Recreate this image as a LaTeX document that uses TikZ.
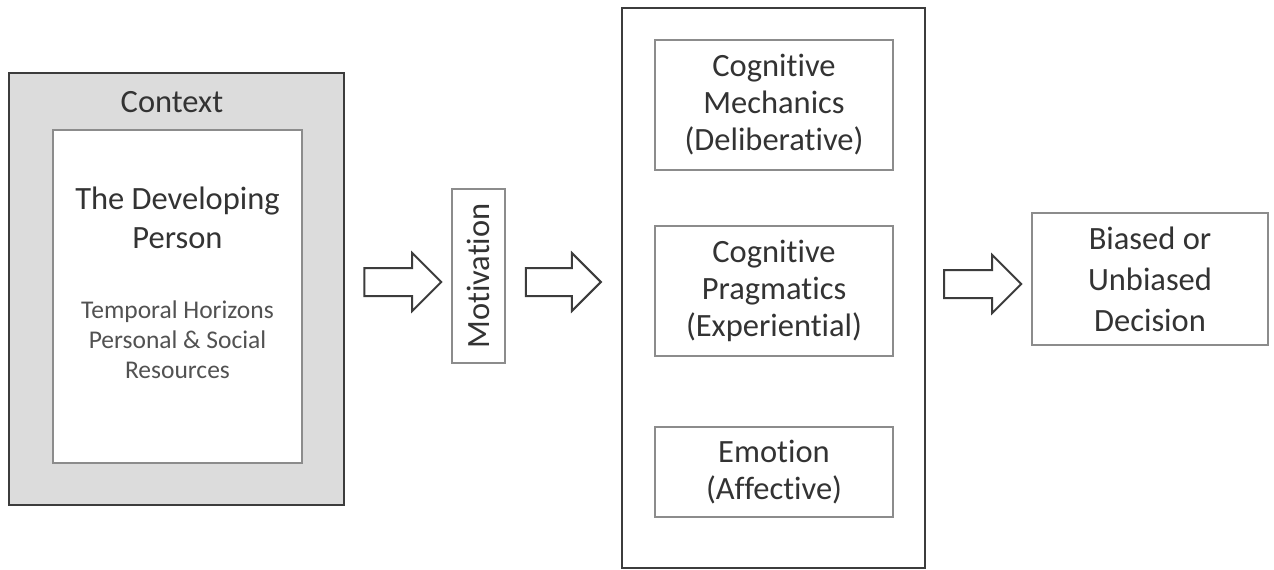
\documentclass[tikz,border=0pt]{standalone}
\usepackage{fontspec}
\setmainfont{Carlito}[Ligatures=NoCommon]
\usetikzlibrary{calc}

\definecolor{frame}{HTML}{3C3C3C}
\definecolor{thin}{HTML}{8C8C8C}
\definecolor{txt}{HTML}{333333}
\definecolor{ctxfill}{HTML}{DCDCDC}

\newcommand\blockarrow[2]{%
  \draw[blockline] let \p1=(#1), \p2=(#2) in
    (\x1,\y1-14pt) -- (\x2-29pt,\y1-14pt) -- (\x2-29pt,\y1-29pt) -- (\x2,\y1)
    -- (\x2-29pt,\y1+29pt) -- (\x2-29pt,\y1+14pt) -- (\x1,\y1+14pt) -- cycle;}

\begin{document}
\begin{tikzpicture}[x=1pt,y=-1pt,
    outerbox/.style={draw=frame,line width=2.5pt,rectangle,inner sep=0pt},
    innerbox/.style={draw=thin,line width=1.6pt,rectangle,inner sep=0pt,fill=white},
    blockline/.style={draw=frame,line width=2pt,fill=white,line join=miter},
    lbl/.style={text=txt,align=center,font=\fontsize{32.5}{37}\selectfont}]
        \useasboundingbox (0,0) rectangle (1274,570);

        % context and person
        \node[outerbox,fill=ctxfill,minimum width=335pt,minimum height=432pt] (ctx) at (176.5,289) {};
        \node[innerbox,minimum width=249pt,minimum height=333pt] (person) at (177.5,296.5) {};
        \node[lbl] (ctxlbl) at (172,102) {Context};
        \node[lbl,font=\fontsize{32.5}{39}\selectfont] (devlbl) at (177.5,218) {The Developing\\Person};
        \node[lbl,text=txt!85,font=\fontsize{25.5}{30}\selectfont] (reslbl) at (177.5,340) {Temporal Horizons\\Personal \& Social\\Resources};

        % motivation
        \node[innerbox,minimum width=53pt,minimum height=174pt] (motiv) at (478.5,276) {};
        \node[lbl,rotate=90] (motivlbl) at (motiv.center) {Motivation};

        % cognition
        \node[outerbox,line width=2.2pt,minimum width=303pt,minimum height=560pt] (cogbox) at (773.5,288) {};
        \node[innerbox,lbl,minimum width=238pt,minimum height=130pt] (mech) at (774,105) {Cognitive\\Mechanics\\(Deliberative)};
        \node[innerbox,lbl,minimum width=238pt,minimum height=130pt] (prag) at (774,291) {Cognitive\\Pragmatics\\(Experiential)};
        \node[innerbox,lbl,minimum width=238pt,minimum height=90pt] (emo) at (774,472) {Emotion\\(Affective)};

        % decision
        \node[innerbox,lbl,font=\fontsize{32.5}{41}\selectfont,minimum width=236pt,minimum height=132pt] (decision) at (1150,279) {Biased or\\Unbiased\\Decision};

        \coordinate (a1s) at ([xshift=19pt]ctx.east |- 0,282);
        \coordinate (a1e) at ([xshift=-10pt]motiv.west |- 0,282);
        \coordinate (a2s) at ([xshift=20pt]motiv.east |- 0,282);
        \coordinate (a2e) at ([xshift=-20pt]cogbox.west |- 0,282);
        \coordinate (a3s) at ([xshift=18pt]cogbox.east |- 0,284);
        \coordinate (a3e) at ([xshift=-10pt]decision.west |- 0,284);

        \blockarrow{a1s}{a1e}
        \blockarrow{a2s}{a2e}
        \blockarrow{a3s}{a3e}
\end{tikzpicture}
\end{document}
